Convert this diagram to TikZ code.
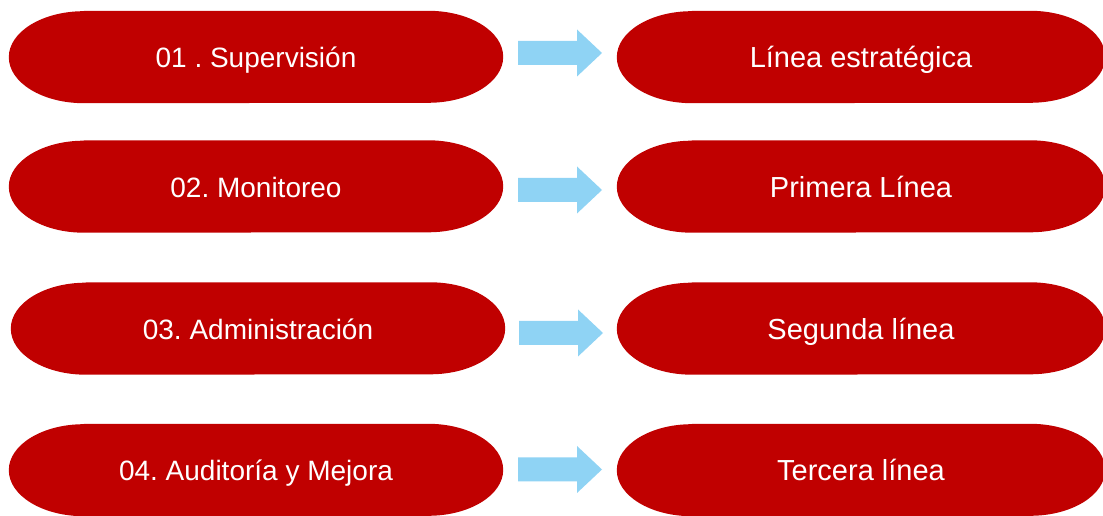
\documentclass[tikz,border=0pt]{standalone}
\usepackage{fontspec}
\setmainfont{Liberation Sans}
\frenchspacing
\usetikzlibrary{backgrounds}
\definecolor{pillred}{HTML}{C00000}
\definecolor{arrowblue}{HTML}{8FD3F4}
\tikzset{
  pill/.style={rectangle, inner sep=0pt, minimum height=92pt, text=white,
    text height=22pt, text depth=0pt,
    font=\fontsize{28}{34}\selectfont},
  leftpill/.style={pill, minimum width=494pt},
  rightpill/.style={pill, minimum width=488pt, font=\fontsize{29}{35}\selectfont},
}
\newcommand{\pillshape}[1]{%
  \fill[pillred] ([xshift=75pt]#1.north west) -- ([xshift=-75pt]#1.north east)
    arc[start angle=90, end angle=-90, x radius=75pt, y radius=46pt]
    -- ([xshift=75pt]#1.south west)
    arc[start angle=270, end angle=90, x radius=75pt, y radius=46pt] -- cycle;}
\newcommand{\blockarrow}[1]{%
  \fill[arrowblue] (#1) ++(0,12) -- ++(59,0) -- ++(0,11.5) -- ++(25,-23.5)
    -- ++(-25,-23.5) -- ++(0,11.5) -- ++(-59,0) -- cycle;}
\begin{document}
\begin{tikzpicture}[x=1pt,y=1pt]
\useasboundingbox (0,0) rectangle (1103,516);
\node[leftpill] (l1) at (256,459) {01 . Supervisión};
\node[leftpill] (l2) at (256,329.5) {02. Monitoreo};
\node[leftpill] (l3) at (258,187.5) {03. Administración};
\node[leftpill] (l4) at (256,46) {04. Auditoría y Mejora};
\node[rightpill] (r1) at (861,459) {Línea estratégica};
\node[rightpill] (r2) at (861,329.5) {Primera Línea};
\node[rightpill] (r3) at (861,187.5) {Segunda línea};
\node[rightpill] (r4) at (861,46) {Tercera línea};
\coordinate (a1) at (518,463);
\coordinate (a2) at (518,326);
\coordinate (a3) at (519,183);
\coordinate (a4) at (518,46.5);
\begin{scope}[on background layer]
\pillshape{l1}\pillshape{l2}\pillshape{l3}\pillshape{l4}
\pillshape{r1}\pillshape{r2}\pillshape{r3}\pillshape{r4}
\end{scope}
\blockarrow{a1}\blockarrow{a2}\blockarrow{a3}\blockarrow{a4}
\end{tikzpicture}
\end{document}
